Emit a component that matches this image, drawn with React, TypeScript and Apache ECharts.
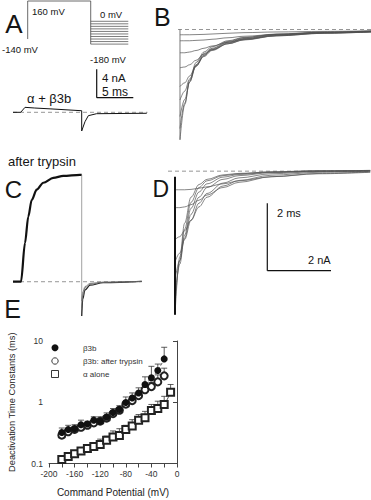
import React, { useEffect, useRef } from "react";
import * as echarts from "echarts";

const FONT = '"Liberation Sans", Arial, Helvetica, sans-serif';

// ---- Panel A: voltage protocol (ms, mV)
const protocolTimes = [3.81, 3.81, 12.48, 12.48];
const protocolVolts = [-140, 160, 160, -180];
const stepPotentials = [0, -20, -40, -60, -80, -100, -120, -140, -160, -180];
const stepWindow = [12.48, 17.65];

// ---- Panel A: current trace (ms, nA)
const aTimes = [0, 1.06, 1.65, 3.0, 5.1, 9.45, 9.45, 9.9, 10.36, 11.5, 18.4];
const aCurrent = [0, 0, 0.72, 0.62, 0.5, 0.23, -2.7, -1.36, -0.49, -0.2, -0.14];

// ---- Panel B: tail currents (ms, nA)
const bTimes = [0, 0.15, 0.3, 0.5, 0.75, 1, 1.5, 2, 3, 4.5, 5.97];
const bTraces = [
  [-14.7, -10.0, -6.8, -4.4, -3.0, -2.3, -1.5, -1.05, -0.6, -0.35, -0.2],
  [-13.2, -9.8, -7.0, -4.7, -3.2, -2.5, -1.6, -1.1, -0.65, -0.35, -0.22],
  [-11.6, -9.3, -7.0, -4.9, -3.4, -2.6, -1.7, -1.2, -0.7, -0.4, -0.25],
  [-9.4, -8.2, -6.6, -4.9, -3.5, -2.7, -1.8, -1.25, -0.75, -0.42, -0.28],
  [-7.6, -7.1, -6.2, -4.8, -3.6, -2.8, -1.9, -1.35, -0.8, -0.45, -0.3],
  [-5.1, -5.0, -4.7, -4.1, -3.3, -2.7, -1.9, -1.4, -0.85, -0.5, -0.32],
  [-3.1, -3.1, -3.0, -2.8, -2.5, -2.2, -1.7, -1.3, -0.85, -0.5, -0.33],
  [-1.5, -1.5, -1.5, -1.45, -1.4, -1.3, -1.1, -0.9, -0.65, -0.45, -0.3],
  [-0.7, -0.7, -0.7, -0.68, -0.65, -0.6, -0.5, -0.42, -0.33, -0.25, -0.18],
];

// ---- Panel C: after trypsin (ms, nA)
const cRiseTimes = [0, 1.1, 1.65, 2.1, 2.57, 3.26, 4.17, 5.54, 6.92, 9.2, 9.45];
const cRiseValues = [0, 0, 5.6, 9.4, 11.8, 13.3, 14.3, 15.0, 15.3, 15.45, 15.45];
const cTailTimes = [9.45, 9.6, 9.9, 10.6, 12.4, 17.7];
const cTails = [
  [-4.96, -2.5, -1.2, -0.5, -0.15, 0.05],
  [-3.8, -2.0, -0.9, -0.35, -0.1, 0.05],
  [-2.8, -1.5, -0.7, -0.25, -0.05, 0.05],
];

// ---- Panel D: tail currents after trypsin (ms, nA)
const dTimes = [0, 0.15, 0.3, 0.5, 0.75, 1, 1.5, 2, 3, 4.5, 6.1];
const dTraces = [
  [-19.3, -11.5, -7.0, -3.5, -1.8, -1.1, -0.5, -0.3, -0.1, 0.05, 0.1],
  [-18.0, -12.0, -7.8, -4.2, -2.2, -1.3, -0.6, -0.35, -0.1, 0.05, 0.1],
  [-16.7, -12.5, -8.6, -5.0, -2.8, -1.7, -0.8, -0.45, -0.15, 0, 0.05],
  [-14.6, -12.0, -9.0, -5.8, -3.5, -2.2, -1.1, -0.6, -0.2, 0, 0.05],
  [-12.2, -11.0, -9.2, -6.6, -4.3, -3.0, -1.6, -0.9, -0.35, -0.05, 0],
  [-9.2, -8.8, -8.0, -6.6, -4.8, -3.5, -2.0, -1.25, -0.55, -0.15, 0],
  [-4.9, -4.9, -4.8, -4.5, -3.9, -3.2, -2.2, -1.5, -0.75, -0.3, -0.1],
  [-2.5, -2.5, -2.5, -2.45, -2.3, -2.1, -1.7, -1.3, -0.75, -0.35, -0.15],
];

// ---- Panel E: deactivation time constants (mV, ms)
const potentials = [-180, -170, -160, -150, -140, -130, -120, -110, -100, -90, -80, -70, -60, -50, -40, -30, -20];
const tauBeta = [0.32, 0.36, 0.37, 0.43, 0.44, 0.51, 0.49, 0.57, 0.68, 0.76, 0.99, 1.17, 1.42, 1.95, 2.5, 3.3, 5.1];
const tauBetaUpper = [0.38, 0.42, 0.43, 0.51, 0.49, 0.58, 0.58, 0.67, 0.79, 0.88, 1.22, 1.42, 1.72, 2.6, 3.86, 4.2, 7.9];
const tauTrypsin = [0.29, 0.33, 0.36, 0.39, 0.42, 0.46, 0.49, 0.55, 0.65, 0.74, 0.93, 1.06, 1.28, 1.6, 1.8, 2.15, 2.7];
const tauTrypsinUpper = [0.31, 0.35, 0.38, 0.42, 0.45, 0.49, 0.52, 0.6, 0.7, 0.8, 1.02, 1.18, 1.42, 1.85, 2.1, 2.8, 3.6];
const alphaPotentials = [-180, -170, -160, -150, -140, -130, -120, -110, -100, -90, -80, -70, -60, -50, -40, -30, -20, -10];
const tauAlpha = [0.116, 0.13, 0.144, 0.16, 0.176, 0.19, 0.204, 0.24, 0.27, 0.286, 0.36, 0.41, 0.51, 0.556, 0.73, 0.79, 0.92, 1.45];
const tauAlphaUpper = [0.13, 0.145, 0.163, 0.18, 0.2, 0.22, 0.25, 0.28, 0.34, 0.37, 0.42, 0.52, 0.63, 0.71, 0.92, 1.04, 1.25, 1.95];
const xTicksE = { min: -200, max: 0, interval: 40 };
const legendNames = ["β3b", "β3b: after trypsin", "α alone"];

const pairs = (xs: number[], ys: number[]) => xs.map((x, i) => [x, ys[i]]);

const errorBarItem = (params: any, api: any) => {
  const x = api.value(0);
  const y = api.value(1);
  const hi = api.value(2);
  const base = api.coord([x, y]);
  const top = api.coord([x, hi]);
  const style = { stroke: "#333", lineWidth: 0.8 };
  return {
    type: "group",
    children: [
      { type: "line", shape: { x1: base[0], y1: base[1], x2: top[0], y2: top[1] }, style },
      { type: "line", shape: { x1: top[0] - 3, y1: top[1], x2: top[0] + 3, y2: top[1] }, style },
    ],
  };
};

const traceLine = (xi: number, data: number[][], color: string, width: number, extra: any = {}) => ({
  type: "line",
  xAxisIndex: xi,
  yAxisIndex: xi,
  data,
  symbol: "none",
  showSymbol: false,
  silent: true,
  lineStyle: { color, width },
  ...extra,
});

const dashed = (xi: number, x0: number, x1: number) =>
  traceLine(xi, [[x0, 0], [x1, 0]], "#8a8a8a", 0.9, { lineStyle: { color: "#8a8a8a", width: 0.9, type: [4, 3] }, z: 1 });

const txt = (text: string, x: number, y: number, size: number, align = "left", extra: any = {}) => ({
  type: "text",
  x,
  y,
  silent: true,
  style: {
    text,
    font: `${size}px ${FONT}`,
    fill: "#151515",
    textAlign: align,
    align,
    textVerticalAlign: "middle",
    verticalAlign: "middle",
    ...extra,
  },
});

const seg = (x1: number, y1: number, x2: number, y2: number, w = 1.2) => ({
  type: "line",
  silent: true,
  shape: { x1, y1, x2, y2 },
  style: { stroke: "#111", lineWidth: w },
});

export default function App() {
  const ref = useRef<HTMLDivElement>(null);
  useEffect(() => {
    if (!ref.current) return;
    const chart = echarts.init(ref.current, null, { renderer: "svg" });
    const hiddenX = (min: number, max: number, gridIndex: number) => ({ type: "value", gridIndex, min, max, show: false });
    const hiddenY = (min: number, max: number, gridIndex: number) => ({ type: "value", gridIndex, min, max, show: false });

    const series: any[] = [];
    // A protocol
    series.push(traceLine(0, pairs(protocolTimes, protocolVolts), "#444", 0.8));
    stepPotentials.forEach((v) => series.push(traceLine(0, [[stepWindow[0], v], [stepWindow[1], v]], "#444", 0.7)));
    // A trace
    series.push(dashed(1, 0, 18.5));
    series.push(traceLine(1, pairs(aTimes, aCurrent), "#111", 1));
    // B
    series.push(dashed(2, -0.0625, 5.97));
    series.push(traceLine(2, [[0, 0], [0, bTraces[0][0]]], "#555", 0.8));
    bTraces.forEach((vals) =>
      series.push(traceLine(2, pairs(bTimes, vals), "#505050", 0.7, { smooth: 0.35, smoothMonotone: "x" }))
    );
    // C
    series.push(dashed(3, 0, 17.74));
    series.push(traceLine(3, pairs(cRiseTimes, cRiseValues), "#111", 2.2, { smooth: 0.3, smoothMonotone: "x" }));
    series.push(traceLine(3, [[cRiseTimes[cRiseTimes.length - 1], cRiseValues[cRiseValues.length - 1]], [cTailTimes[0], cTails[0][0]]], "#777", 0.7));
    cTails.forEach((vals, i) =>
      series.push(traceLine(3, pairs(cTailTimes, vals), i === 0 ? "#222" : "#666", i === 0 ? 1.2 : 0.8, { smooth: 0.35, smoothMonotone: "x" }))
    );
    // D
    series.push(dashed(4, -0.21875, 6.125));
    dTraces.forEach((vals) =>
      series.push(traceLine(4, pairs(dTimes, vals), "#555", 0.7, { smooth: 0.35, smoothMonotone: "x" }))
    );
    series.push(traceLine(4, [[0, -0.74], [0, dTraces[0][0]]], "#111", 2));
    // E
    series.push({
      type: "custom", xAxisIndex: 5, yAxisIndex: 5, renderItem: errorBarItem, silent: true, z: 2,
      encode: { x: 0, y: [1, 2] },
      data: potentials.map((p, i) => [p, tauBeta[i], tauBetaUpper[i]]),
    });
    series.push({
      type: "custom", xAxisIndex: 5, yAxisIndex: 5, renderItem: errorBarItem, silent: true, z: 2,
      encode: { x: 0, y: [1, 2] },
      data: potentials.map((p, i) => [p, tauTrypsin[i], tauTrypsinUpper[i]]),
    });
    series.push({
      type: "custom", xAxisIndex: 5, yAxisIndex: 5, renderItem: errorBarItem, silent: true, z: 2,
      encode: { x: 0, y: [1, 2] },
      data: alphaPotentials.map((p, i) => [p, tauAlpha[i], tauAlphaUpper[i]]),
    });
    series.push({
      name: legendNames[2], type: "line", xAxisIndex: 5, yAxisIndex: 5, z: 3,
      data: pairs(alphaPotentials, tauAlpha), symbol: "emptyRect", symbolSize: 7, smooth: 0.3,
      itemStyle: { color: "#222", borderWidth: 0.9 }, lineStyle: { color: "#222", width: 0.8 },
    });
    series.push({
      name: legendNames[1], type: "line", xAxisIndex: 5, yAxisIndex: 5, z: 3,
      data: pairs(potentials, tauTrypsin), symbol: "emptyCircle", symbolSize: 7,
      itemStyle: { color: "#222", borderWidth: 0.9 }, lineStyle: { opacity: 0 },
    });
    series.push({
      name: legendNames[0], type: "line", xAxisIndex: 5, yAxisIndex: 5, z: 4,
      data: pairs(potentials, tauBeta), symbol: "circle", symbolSize: 7, smooth: 0.3,
      itemStyle: { color: "#111" }, lineStyle: { color: "#333", width: 0.8, type: [3, 2] },
    });

    const graphic: any[] = [
      txt("A", 14, 23.5, 26, "center"),
      txt("B", 162.3, 16.5, 25, "center"),
      txt("C", 13.5, 189, 24, "center"),
      txt("D", 160.8, 188.5, 23, "center"),
      txt("E", 12.5, 308.5, 25, "center"),
      txt("160 mV", 32, 11.5, 9.5),
      txt("0 mV", 100, 14.5, 9.5),
      txt("-140 mV", 2, 49, 9.5),
      txt("-180 mV", 90, 59.5, 9.5),
      txt("4 nA", 102, 77.5, 11.5),
      txt("5 ms", 102, 92, 12),
      txt("α + β3b", 27, 98.5, 13),
      txt("after trypsin", 8, 161, 13),
      txt("2 ms", 277, 213, 11),
      txt("2 nA", 308, 259.5, 11),
      seg(96.7, 69.3, 96.7, 97.7),
      seg(96.7, 97.7, 133.3, 97.7),
      seg(267.3, 203.3, 267.3, 270.7),
      seg(267.3, 270.7, 331, 270.7),
      // legend of panel E
      { type: "circle", silent: true, shape: { cx: 55, cy: 347.7, r: 3.5 }, style: { fill: "#111" } },
      { type: "circle", silent: true, shape: { cx: 55, cy: 361, r: 3.2 }, style: { fill: "#fff", stroke: "#222", lineWidth: 0.9 } },
      { type: "rect", silent: true, shape: { x: 51.5, y: 370.5, width: 7, height: 7 }, style: { fill: "#fff", stroke: "#222", lineWidth: 0.9 } },
      txt(legendNames[0], 83, 348, 8, "left", { fill: "#333" }),
      txt(legendNames[1], 83, 361, 8, "left", { fill: "#333" }),
      txt(legendNames[2], 83, 374, 8, "left", { fill: "#333" }),
    ];

    chart.setOption({
      animation: false,
      backgroundColor: "#fff",
      textStyle: { fontFamily: FONT },
      grid: [
        { left: 0, top: 0, width: 140, height: 46 },
        { left: 13, top: 100, width: 135, height: 35 },
        { left: 178, top: 22, width: 193, height: 120 },
        { left: 13, top: 170, width: 129, height: 150 },
        { left: 168, top: 160, width: 203, height: 160 },
        { left: 49, top: 341, width: 128, height: 122.5 },
      ],
      xAxis: [
        hiddenX(0, 19.26, 0),
        hiddenX(0, 18.57, 1),
        hiddenX(-0.0625, 5.969, 2),
        hiddenX(0, 17.74, 3),
        hiddenX(-0.21875, 6.125, 4),
        {
          type: "value", gridIndex: 5, min: xTicksE.min, max: xTicksE.max, interval: xTicksE.interval,
          name: "Command Potential (mV)", nameLocation: "middle", nameGap: 24,
          nameTextStyle: { fontSize: 10, color: "#222", fontFamily: FONT },
          axisLine: { show: true, lineStyle: { color: "#444", width: 1 } },
          axisTick: { show: true, length: 4, lineStyle: { color: "#444" } },
          minorTick: { show: true, splitNumber: 2, length: 4, lineStyle: { color: "#444" } },
          axisLabel: { fontSize: 8.5, color: "#333", margin: 6, fontFamily: FONT },
          splitLine: { show: false },
        },
      ],
      yAxis: [
        hiddenY(-195, 167.9, 0),
        hiddenY(-3.28, 1.78, 1),
        hiddenY(-15, 1, 2),
        hiddenY(-5.53, 16.14, 3),
        hiddenY(-20, 1.5, 4),
        {
          type: "log", logBase: 10, gridIndex: 5, min: 0.1, max: 10,
          name: "Deactivation Time Constants (ms)", nameLocation: "middle", nameGap: 33,
          nameTextStyle: { fontSize: 9.3, color: "#222", fontFamily: FONT },
          axisLine: { show: true, lineStyle: { color: "#444", width: 1 } },
          axisTick: { show: true, length: 4, lineStyle: { color: "#444" } },
          axisLabel: {
            fontSize: 8.5, color: "#333", margin: 6, fontFamily: FONT,
            formatter: (v: number) => String(+Number(v).toPrecision(3)),
          },
          splitLine: { show: false },
        },
      ],
      graphic,
      series,
    });
    return () => chart.dispose();
  }, []);
  return (
    <div
      ref={ref}
      style={{ position: "absolute", left: 0, top: 0, width: 371, height: 500, background: "#fff" }}
    />
  );
}
